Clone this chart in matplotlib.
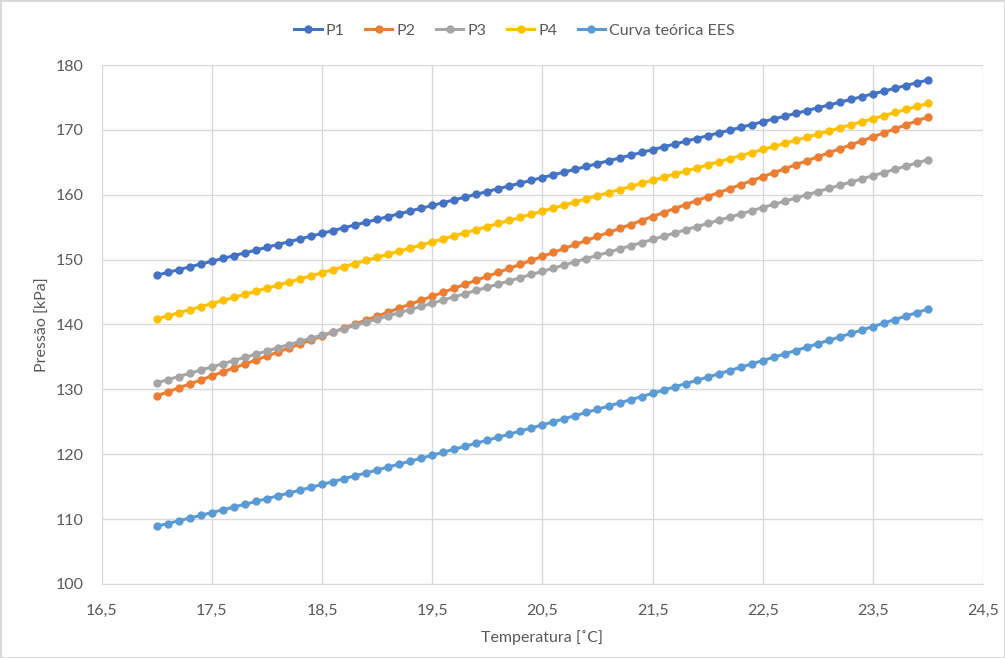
import numpy as np
import matplotlib
matplotlib.use("Agg")
import matplotlib.pyplot as plt

temps = [round(17 + 0.1 * i, 1) for i in range(71)]

p1 = [147.60,148.03,148.46,148.89,149.32,149.75,150.18,150.61,151.04,151.47,
      151.90,152.33,152.76,153.19,153.62,154.05,154.48,154.91,155.34,155.77,
      156.20,156.63,157.06,157.49,157.92,158.35,158.78,159.21,159.64,160.07,
      160.50,160.93,161.36,161.79,162.22,162.65,163.08,163.51,163.94,164.37,
      164.80,165.23,165.66,166.09,166.52,166.95,167.38,167.81,168.24,168.67,
      169.10,169.53,169.96,170.39,170.82,171.25,171.68,172.11,172.54,172.97,
      173.40,173.83,174.26,174.69,175.12,175.55,175.98,176.41,176.84,177.27,177.70]

p2 = [129.00,129.61,130.23,130.84,131.46,132.07,132.69,133.30,133.91,134.53,
      135.14,135.76,136.37,136.99,137.60,138.21,138.83,139.44,140.06,140.67,
      141.29,141.90,142.51,143.13,143.74,144.36,144.97,145.59,146.20,146.81,
      147.43,148.04,148.66,149.27,149.89,150.50,151.11,151.73,152.34,152.96,
      153.57,154.19,154.80,155.41,156.03,156.64,157.26,157.87,158.49,159.10,
      159.71,160.33,160.94,161.56,162.17,162.79,163.40,164.01,164.63,165.24,
      165.86,166.47,167.09,167.70,168.31,168.93,169.54,170.16,170.77,171.39,172.00]

p3 = [131.00,131.49,131.98,132.47,132.97,133.46,133.95,134.44,134.93,135.42,
      135.91,136.41,136.90,137.39,137.88,138.37,138.86,139.35,139.85,140.34,
      140.83,141.32,141.81,142.30,142.79,143.29,143.78,144.27,144.76,145.25,
      145.74,146.23,146.72,147.22,147.71,148.20,148.69,149.18,149.67,150.16,
      150.66,151.15,151.64,152.13,152.62,153.11,153.60,154.10,154.59,155.08,
      155.57,156.06,156.55,157.04,157.54,158.03,158.52,159.01,159.50,159.99,
      160.48,160.98,161.47,161.96,162.45,162.94,163.43,163.92,164.42,164.91,165.40]

p4 = [140.85,141.33,141.80,142.28,142.75,143.23,143.70,144.18,144.65,145.13,
      145.60,146.08,146.55,147.03,147.50,147.98,148.45,148.93,149.40,149.88,
      150.35,150.83,151.30,151.78,152.25,152.73,153.20,153.68,154.15,154.63,
      155.10,155.58,156.05,156.53,157.00,157.48,157.95,158.43,158.90,159.38,
      159.85,160.33,160.80,161.28,161.75,162.23,162.70,163.18,163.65,164.13,
      164.60,165.08,165.55,166.03,166.50,166.98,167.45,167.93,168.40,168.88,
      169.35,169.83,170.30,170.78,171.25,171.73,172.20,172.68,173.15,173.63,174.10]

ees = [108.90,109.32,109.74,110.16,110.58,111.01,111.43,111.86,112.29,112.72,
       113.15,113.59,114.02,114.46,114.90,115.34,115.78,116.23,116.67,117.12,
       117.57,118.02,118.48,118.93,119.39,119.84,120.30,120.77,121.23,121.70,
       122.16,122.63,123.10,123.57,124.05,124.52,125.00,125.48,125.96,126.45,
       126.93,127.42,127.91,128.40,128.89,129.39,129.88,130.38,130.88,131.38,
       131.89,132.39,132.90,133.41,133.92,134.44,134.95,135.47,135.99,136.51,
       137.04,137.56,138.09,138.62,139.15,139.69,140.22,140.76,141.30,141.84,142.39]

series = [("P1", p1, "#4472C4"), ("P2", p2, "#ED7D31"), ("P3", p3, "#A5A5A5"),
          ("P4", p4, "#FFC000"), ("Curva teórica EES", ees, "#5B9BD5")]

xticks = [16.5, 17.5, 18.5, 19.5, 20.5, 21.5, 22.5, 23.5, 24.5]
yticks = [100, 110, 120, 130, 140, 150, 160, 170, 180]

plt.rcParams['font.family'] = ['Lato', 'DejaVu Sans']
txt = "#595959"

fig = plt.figure(figsize=(10.05, 6.58), dpi=100)
fig.patch.set_edgecolor("#D9D9D9")
fig.patch.set_linewidth(1)
ax = fig.add_axes([0.1012, 0.1125, 0.8770, 0.7887])

for name, vals, col in series:
    ax.plot(temps, vals, color=col, lw=2.2, marker='o', markersize=6,
            markeredgewidth=0, label=name)

ax.set_xlim(16.5, 24.5)
ax.set_ylim(100, 180)
ax.set_xticks(xticks)
ax.set_xticklabels([f"{v:.1f}".replace('.', ',') for v in xticks])
ax.set_yticks(yticks)
ax.grid(True, color="#D9D9D9", lw=1)
ax.set_axisbelow(True)
for s in ["top", "right", "left"]:
    ax.spines[s].set_visible(False)
ax.spines["bottom"].set_color("#D9D9D9")
ax.tick_params(length=0, labelsize=11.5, labelcolor=txt)
ax.tick_params(axis='x', pad=14)
ax.tick_params(axis='y', pad=13)
ax.set_xlabel("Temperatura [˚C]", fontsize=11.5, color=txt, labelpad=9)
ax.set_ylabel("Pressão [kPa]", fontsize=11.5, color=txt, labelpad=4)

fig.legend(loc="center", bbox_to_anchor=(0.512, 0.953), ncol=5, frameon=False,
           fontsize=11.5, labelcolor=txt, handlelength=1.7, columnspacing=1.3,
           handletextpad=0.25)

fig.savefig("out.png", dpi=100)
